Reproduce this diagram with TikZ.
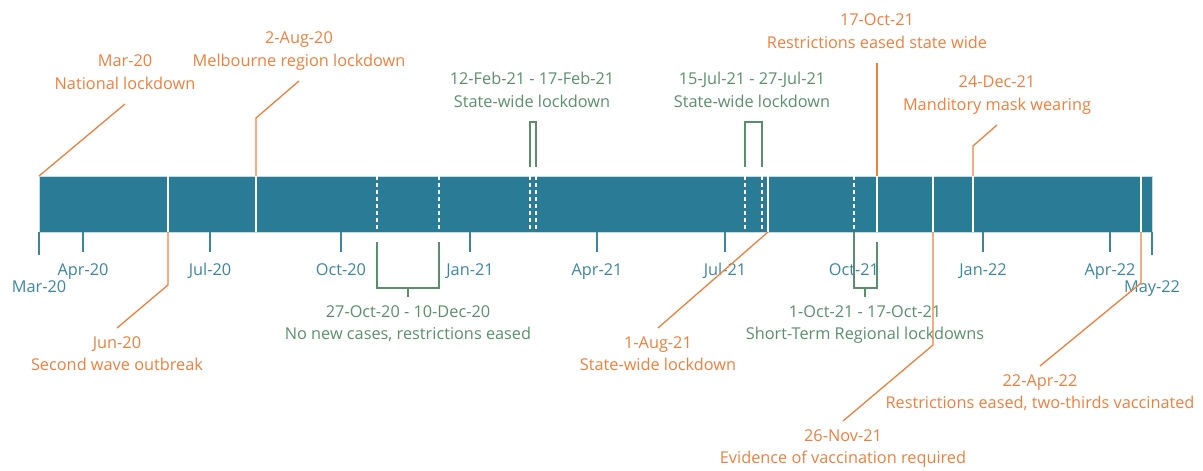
\documentclass[tikz,border=0pt]{standalone}
\usepackage{fontspec}
\setmainfont{Open Sans}
\usepackage{tikz}
\usetikzlibrary{positioning}
\definecolor{barteal}{HTML}{2A7B96}
\definecolor{baredge}{HTML}{C5DCE4}
\definecolor{tickteal}{HTML}{3A86A0}
\definecolor{evorange}{HTML}{F07F3C}
\definecolor{periodgreen}{HTML}{5A8F6E}
\newcommand{\lblfont}{\fontsize{16.3}{22.5}\selectfont}

\begin{document}
\begin{tikzpicture}[x=1pt,y=-1pt,
  evlabel/.style={align=center,font=\lblfont,text=evorange,inner sep=8pt,
    execute at begin node=\strut,execute at end node=\strut},
  perlabel/.style={evlabel,text=periodgreen},
  ticklabel/.style={font=\lblfont,text=tickteal,anchor=base,inner sep=0pt},
  evline/.style={evorange,line width=1.3pt},
  perline/.style={periodgreen,line width=1.2pt},
  tickline/.style={tickteal,line width=1.4pt},
  datecut/.style={white,line width=1.2pt},
  datecutdash/.style={white,line width=1.2pt,dash pattern=on 4pt off 3pt}]
  \useasboundingbox (0,0) rectangle (1203,471);
  % the timeline bar
  \fill[barteal] (39,176) rectangle (1152,232);
  \draw[baredge,line width=1pt] (39,176) rectangle (1152,232);
  \draw[datecut] (168,176) -- (168,232) (256,176) -- (256,232) (768,176) -- (768,232)
    (877,176) -- (877,232) (933,176) -- (933,232) (973,176) -- (973,232) (1141,176) -- (1141,232);
  \draw[datecutdash] (377,176) -- (377,232) (439,176) -- (439,232) (530,176) -- (530,232)
    (536,176) -- (536,232) (745,176) -- (745,232) (762,176) -- (762,232) (854,176) -- (854,232);
  % month ticks
  \draw[tickline] (39,232) -- (39,255) (1152,232) -- (1152,255);
  \draw[tickline] (83,232) -- (83,252) (210,232) -- (210,252) (341,232) -- (341,252)
    (470,232) -- (470,252) (597,232) -- (597,252) (725,232) -- (725,252)
    (854,232) -- (854,252) (983,232) -- (983,252) (1110,232) -- (1110,252);
  \node[ticklabel] (tmar20) at (39,292.5) {Mar-20};
  \node[ticklabel] (tapr20) at (83,275) {Apr-20};
  \node[ticklabel] (tjul20) at (210,275) {Jul-20};
  \node[ticklabel] (toct20) at (341,275) {Oct-20};
  \node[ticklabel] (tjan21) at (470,275) {Jan-21};
  \node[ticklabel] (tapr21) at (597,275) {Apr-21};
  \node[ticklabel] (tjul21) at (725,275) {Jul-21};
  \node[ticklabel] (toct21) at (854,275) {Oct-21};
  \node[ticklabel] (tjan22) at (983,275) {Jan-22};
  \node[ticklabel] (tapr22) at (1110,275) {Apr-22};
  \node[ticklabel] (tmay22) at (1152,292.5) {May-22};

  % lockdown periods
  \coordinate (feb12) at (530,167);
  \coordinate (feb17) at (536,167);
  \draw[perline] (feb12) -- ++(0,-45) -| (feb17);
  \node[perlabel,anchor=south] (febwide) at (532,122) {12-Feb-21 - 17-Feb-21\\State-wide lockdown};
  \coordinate (jul15) at (745,167);
  \coordinate (jul27) at (762,167);
  \draw[perline] (jul15) -- ++(0,-45) -| (jul27);
  \node[perlabel,anchor=south] (julwide) at (752,122) {15-Jul-21 - 27-Jul-21\\State-wide lockdown};
  \coordinate (oct27) at (377,242);
  \coordinate (dec10) at (439,242);
  \draw[perline] (oct27) -- ++(0,46) -| (dec10);
  \coordinate (oct27mid) at (408,288);
  \node[perlabel,anchor=north] (nocases) at (408,297) {27-Oct-20 - 10-Dec-20\\No new cases, restrictions eased};
  \draw[perline] (oct27mid) -- (nocases.north);
  \coordinate (oct1) at (854,232);
  \coordinate (oct17b) at (877,242);
  \draw[perline] (oct1) -- ++(0,56) -| (oct17b);
  \coordinate (oct1mid) at (865,288);
  \node[perlabel,anchor=north] (shortterm) at (865,297) {1-Oct-21 - 17-Oct-21\\Short-Term Regional lockdowns};
  \draw[perline] (oct1mid) -- (shortterm.north);

  % events
  \coordinate (mar20) at (39,176);
  \node[evlabel,anchor=south] (natlock) at (125,104) {Mar-20\\National lockdown};
  \draw[evline] (mar20) -- (natlock.south);
  \coordinate (aug20) at (256,176);
  \node[evlabel,anchor=south] (melblock) at (299,81) {2-Aug-20\\Melbourne region lockdown};
  \draw[evline] (aug20) -- ++(0,-58) -- (melblock.south);
  \coordinate (jun20) at (168,232);
  \node[evlabel,anchor=north] (secwave) at (117,328) {Jun-20\\Second wave outbreak};
  \draw[evline] (jun20) -- ++(0,53) -- (secwave.north);
  \coordinate (aug21) at (768,232);
  \node[evlabel,anchor=north] (statelock) at (658,328) {1-Aug-21\\State-wide lockdown};
  \draw[evline] (aug21) -- (statelock.north);
  \coordinate (oct17) at (877,176);
  \node[evlabel,anchor=south] (easedstate) at (877,63) {17-Oct-21\\Restrictions eased state wide};
  \draw[evline] (oct17) -- (easedstate.south);
  \coordinate (dec24) at (973,176);
  \node[evlabel,anchor=south] (maskwear) at (997,125) {24-Dec-21\\Manditory mask wearing};
  \draw[evline] (dec24) -- ++(0,-30) -- (maskwear.south);
  \coordinate (nov26) at (933,232);
  \node[evlabel,anchor=north] (vaxreq) at (843,421) {26-Nov-21\\Evidence of vaccination required};
  \draw[evline] (nov26) -- ++(0,113) -- (vaxreq.north);
  \coordinate (apr22) at (1141,232);
  \node[evlabel,anchor=north] (twothirds) at (1040,366) {22-Apr-22\\Restrictions eased, two-thirds vaccinated};
  \draw[evline] (apr22) -- ++(0,51) -- (twothirds.north);
\end{tikzpicture}
\end{document}
